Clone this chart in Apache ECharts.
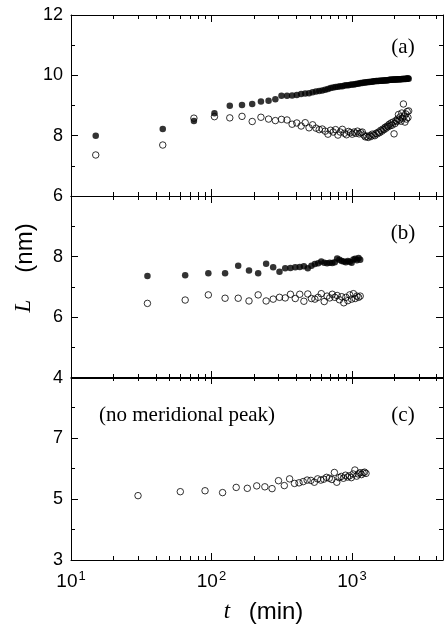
<!DOCTYPE html>
<html><head><meta charset="utf-8">
<script src="https://cdn.jsdelivr.net/npm/echarts@6/dist/echarts.min.js"></script>
<style>html,body{margin:0;padding:0;background:#fff}#c{width:444px;height:625px}</style>
</head><body><div id="c"></div>
<script>
// ---- data ----
const timesA = [15,45,75,105,135,165,195,225,255,285,315,345,375,405,435,465,495,525,555,585,615,645,675,705,735,765,795,825,855,885,915,945,975,1005,1035,1065,1095,1125,1155,1185,1215,1245,1275,1305,1335,1365,1395,1425,1455,1485,1515,1545,1575,1605,1635,1665,1695,1725,1755,1785,1815,1845,1875,1905,1935,1965,1995,2025,2055,2085,2115,2145,2175,2205,2235,2265,2295,2325,2355,2385,2415,2445,2475,2505,2535];
const filledA = [8.00,8.22,8.49,8.74,8.99,9.02,9.05,9.13,9.16,9.21,9.32,9.32,9.33,9.35,9.38,9.40,9.41,9.44,9.46,9.48,9.50,9.52,9.55,9.58,9.60,9.61,9.62,9.64,9.64,9.66,9.67,9.67,9.69,9.70,9.70,9.71,9.72,9.73,9.75,9.75,9.76,9.76,9.77,9.78,9.78,9.79,9.79,9.80,9.80,9.81,9.81,9.81,9.82,9.82,9.82,9.83,9.83,9.83,9.84,9.84,9.84,9.85,9.85,9.85,9.85,9.86,9.86,9.86,9.86,9.86,9.87,9.87,9.87,9.87,9.87,9.88,9.88,9.88,9.88,9.89,9.88,9.89,9.89,9.90,9.89];
const openA = [7.36,7.69,8.58,8.63,8.59,8.64,8.47,8.61,8.55,8.50,8.54,8.52,8.38,8.42,8.32,8.43,8.26,8.36,8.25,8.20,8.22,8.15,8.05,8.18,8.12,8.20,8.02,8.12,8.21,8.08,8.03,8.14,8.10,8.05,8.12,8.08,8.15,8.06,8.10,8.12,8.02,7.96,7.98,7.94,8.00,7.97,8.05,8.02,8.00,8.08,8.06,8.12,8.10,8.18,8.15,8.22,8.20,8.28,8.25,8.32,8.30,8.38,8.33,8.42,8.35,8.45,8.06,8.40,8.50,8.47,8.55,8.70,8.52,8.62,8.48,8.75,8.58,9.05,8.65,8.45,8.72,8.55,8.80,8.60,8.82];

const timesB = [35,65,95,125,155,185,215,245,275,305,335,365,395,425,455,485,515,545,575,605,635,665,695,725,755,785,815,845,875,905,935,965,995,1025,1055,1085,1115,1145];
const filledB = [7.36,7.39,7.45,7.45,7.70,7.54,7.45,7.77,7.65,7.50,7.62,7.63,7.65,7.66,7.68,7.62,7.70,7.76,7.78,7.84,7.80,7.78,7.80,7.79,7.82,7.94,7.90,7.86,7.84,7.82,7.86,7.83,7.80,7.91,7.93,7.88,7.96,7.90];
const openB = [6.46,6.57,6.74,6.63,6.63,6.54,6.74,6.54,6.60,6.66,6.64,6.76,6.62,6.76,6.53,6.77,6.62,6.60,6.66,6.78,6.52,6.70,6.64,6.76,6.66,6.72,6.58,6.68,6.48,6.66,6.55,6.74,6.60,6.78,6.62,6.70,6.66,6.70];

const timesC = [30,60,90,120,150,180,210,240,270,300,330,360,390,420,450,480,510,540,570,600,630,660,690,720,750,780,810,840,870,900,930,960,990,1020,1050,1080,1110,1140,1170,1200,1230,1260];
const openC = [5.11,5.24,5.27,5.21,5.38,5.35,5.43,5.40,5.34,5.60,5.44,5.66,5.51,5.53,5.57,5.62,5.61,5.55,5.66,5.62,5.65,5.71,5.68,5.64,5.87,5.55,5.70,5.74,5.68,5.78,5.72,5.76,5.70,5.82,5.95,5.75,5.82,5.86,5.80,5.86,5.88,5.84];

const xMinorTicks = [20,30,40,50,60,70,80,90,200,300,400,500,600,700,800,900,2000,3000,4000];
const yRangeA = [6, 12];
const yRangeB = [4, 10];
const yRangeC = [3, 9];
const panelLabels = ['(a)', '(b)', '(c)'];

// ---- layout ----
const grids = [
  {left: 71, right: 1, top: 15, height: 181},
  {left: 71, right: 1, top: 196, height: 182},
  {left: 71, right: 1, top: 377, height: 183}
];
const yRanges = [yRangeA, yRangeB, yRangeC];
const X_MIN = 10, X_MAX = 4450;
const sans = 'Liberation Sans, Arial, sans-serif';
const serif = 'Liberation Serif, Times New Roman, serif';

const xAxes = [], yAxes = [];
grids.forEach((g, i) => {
  ['bottom', 'top'].forEach(pos => {
    xAxes.push({
      type: 'log', gridIndex: i, position: pos, min: X_MIN, max: X_MAX, logBase: 10,
      axisLine: {show: true, lineStyle: {color: '#000', width: 1}},
      axisTick: {show: true, inside: true, length: 7, lineStyle: {color: '#000'}},
      minorTick: {show: false},
      splitLine: {show: false},
      axisLabel: {
        show: (i === 2 && pos === 'bottom'), showMaxLabel: false, margin: 10,
        color: '#000', fontFamily: sans, fontSize: 19,
        formatter: v => '10{s|' + Math.round(Math.log10(v)) + '}',
        rich: {s: {fontSize: 13, fontFamily: sans, color: '#000', verticalAlign: 'top', padding: [0, 0, 10, 1]}}
      }
    });
  });
  ['left', 'right'].forEach(pos => {
    yAxes.push({
      type: 'value', gridIndex: i, position: pos, min: yRanges[i][0], max: yRanges[i][1], interval: 2,
      axisLine: {show: true, lineStyle: {color: '#000', width: 1}},
      axisTick: {show: true, inside: true, length: 7, lineStyle: {color: '#000'}},
      minorTick: {show: true, splitNumber: 2, length: 4, lineStyle: {color: '#000'}},
      splitLine: {show: false}, minorSplitLine: {show: false},
      axisLabel: {
        show: pos === 'left', showMaxLabel: i === 0, margin: 8,
        color: '#000', fontFamily: sans, fontSize: 18
      }
    });
  });
});

function pairs(ts, vs) { return ts.map((t, k) => [t, vs[k]]); }
const filledStyle = {color: '#000'};
const openStyle = {color: 'rgba(0,0,0,0)', borderColor: '#000', borderWidth: 1};

const series = [
  {type: 'scatter', xAxisIndex: 0, yAxisIndex: 0, symbol: 'circle', symbolSize: 6.5, itemStyle: filledStyle, data: pairs(timesA, filledA)},
  {type: 'scatter', xAxisIndex: 0, yAxisIndex: 0, symbol: 'circle', symbolSize: 6.5, itemStyle: openStyle, data: pairs(timesA, openA)},
  {type: 'scatter', xAxisIndex: 2, yAxisIndex: 2, symbol: 'circle', symbolSize: 6.5, itemStyle: filledStyle, data: pairs(timesB, filledB)},
  {type: 'scatter', xAxisIndex: 2, yAxisIndex: 2, symbol: 'circle', symbolSize: 6.5, itemStyle: openStyle, data: pairs(timesB, openB)},
  {type: 'scatter', xAxisIndex: 4, yAxisIndex: 4, symbol: 'circle', symbolSize: 6.5, itemStyle: openStyle, data: pairs(timesC, openC)}
];

// minor log ticks on top and bottom of each panel
grids.forEach((g, i) => {
  series.push({
    type: 'custom', xAxisIndex: 2 * i, yAxisIndex: 2 * i, silent: true, clip: false,
    data: xMinorTicks.map(v => [v, yRanges[i][0]]),
    renderItem: (params, api) => {
      const cs = params.coordSys;
      const x = Math.round(api.coord([api.value(0), api.value(1)])[0]) + 0.5;
      const st = {stroke: '#000', lineWidth: 1};
      return {type: 'group', children: [
        {type: 'line', shape: {x1: x, y1: cs.y, x2: x, y2: cs.y + 4}, style: st},
        {type: 'line', shape: {x1: x, y1: cs.y + cs.height, x2: x, y2: cs.y + cs.height - 4}, style: st}
      ]};
    }
  });
});

const txt = (x, y, text, font, align, rot) => ({
  type: 'text', x: x, y: y, rotation: rot || 0,
  style: {text: text, font: font, fill: '#000', align: align || 'center', verticalAlign: 'middle'}
});
const graphic = [
  txt(403, 47, panelLabels[0], '21px ' + serif),
  txt(403, 233, panelLabels[1], '21px ' + serif),
  txt(403, 415, panelLabels[2], '21px ' + serif),
  txt(99, 415, '(no meridional peak)', '21px ' + serif, 'left'),
  txt(227, 612, 't', 'italic 23px ' + serif),
  txt(276, 612, '(min)', '24px ' + sans),
  txt(24, 306, 'L', 'italic 23px ' + serif, 'center', Math.PI / 2),
  txt(25, 248, '(nm)', '24px ' + sans, 'center', Math.PI / 2)
];

const chart = echarts.init(document.getElementById('c'), null, {renderer: 'canvas'});
chart.setOption({
  animation: false,
  backgroundColor: '#fff',
  grid: grids,
  xAxis: xAxes,
  yAxis: yAxes,
  series: series,
  graphic: graphic
});
</script>
</body></html>
